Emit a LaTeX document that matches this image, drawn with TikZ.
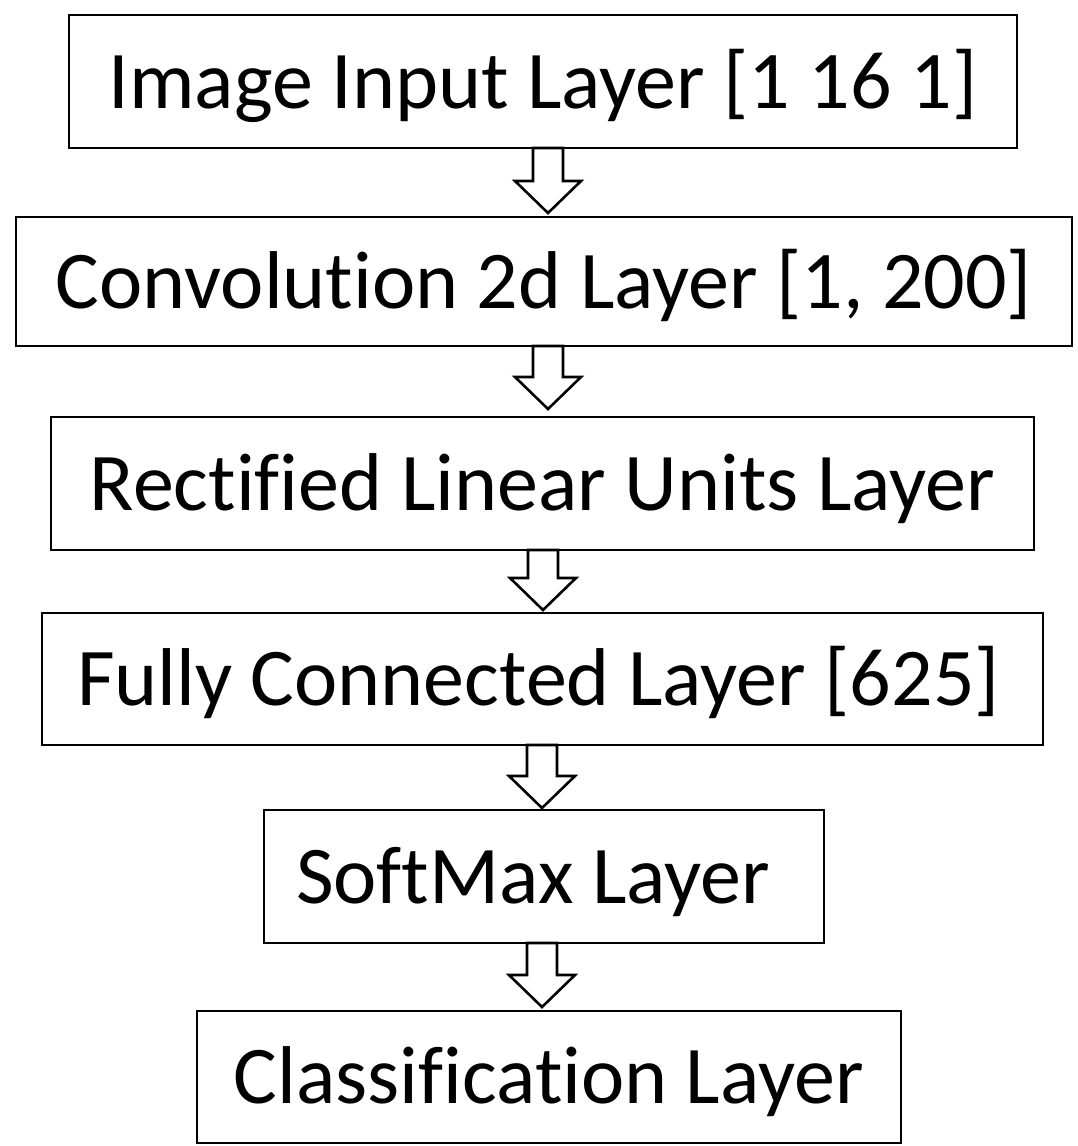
\documentclass[tikz,border=0pt]{standalone}
\usepackage{fontspec}
\setmainfont{Carlito}[Ligatures={NoCommon}]
\usetikzlibrary{calc}
\tikzset{
  layerbox/.style={draw=black, line width=2.6pt, fill=white, rectangle, inner sep=0pt, outer sep=0pt,
    font=\fontsize{82}{96}\selectfont, text height=53pt, text depth=0pt, align=center},
  barrow/.style={draw=black, line width=2.6pt, fill=white, line join=miter}
}
\newcommand\blockarr[4]{%
  \draw[barrow] let \p1=(#1.south), \p2=(#2.north) in
    ({(#3-15)*1pt},\y1) -- ({(#3-15)*1pt},\y2+#4pt+32pt) -- ({(#3-33)*1pt},\y2+#4pt+32pt)
    -- ({#3*1pt},\y2+#4pt) -- ({(#3+33)*1pt},\y2+#4pt+32pt) -- ({(#3+15)*1pt},\y2+#4pt+32pt)
    -- ({(#3+15)*1pt},\y1) -- cycle;}
\begin{document}
\begin{tikzpicture}[x=1pt, y=-1pt]
  \useasboundingbox[fill=white] (0,0) rectangle (1078,1146);
  \node[layerbox, minimum width=948pt, minimum height=133pt] (b1) at (543,81.5) {Image Input Layer [1 16 1]};
  \node[layerbox, minimum width=1056pt, minimum height=129pt] (b2) at (544,281.5) {Convolution 2d Layer [1, 200]};
  \node[layerbox, minimum width=983pt, minimum height=133pt] (b3) at (542.5,483.5) {Rectified Linear Units Layer};
  \node[layerbox, minimum width=1001pt, minimum height=132pt] (b4) at (542.5,679) {\hspace*{-8pt}Fully Connected Layer [625]};
  \node[layerbox, minimum width=560pt, minimum height=133pt] (b5) at (544,876.5) {\hspace*{-22pt}SoftMax Layer};
  \node[layerbox, minimum width=704pt, minimum height=132pt] (b6) at (549,1077) {Classification Layer};
  \blockarr{b1}{b2}{548}{4}
  \blockarr{b2}{b3}{548}{8}
  \blockarr{b3}{b4}{543}{3}
  \blockarr{b4}{b5}{542}{2}
  \blockarr{b5}{b6}{542}{4}
\end{tikzpicture}
\end{document}
